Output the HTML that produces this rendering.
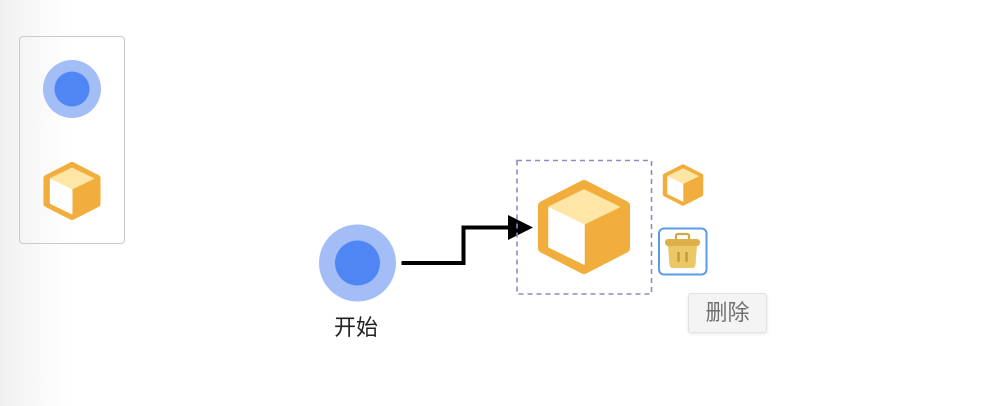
<!DOCTYPE html>
<html>
<head>
<meta charset="utf-8">
<style>
  html, body { margin:0; padding:0; }
  body {
    width:981px; height:406px; overflow:hidden; position:relative;
    background: linear-gradient(to right, #f0f0f0 0px, #f7f7f7 30px, #fdfdfd 60px, #ffffff 75px);
    font-family: "Liberation Sans", "Noto Sans CJK SC", sans-serif;
  }
  .panel {
    position:absolute; left:19px; top:36px; width:106px; height:208px;
    border:1.5px solid #cacaca; border-radius:4px; box-sizing:border-box;
  }
  .label {
    position:absolute; left:310px; top:313px; width:92px; text-align:center;
    font-size:22px; color:#222; line-height:30px;
  }
  .tip {
    position:absolute; left:688px; top:293px; width:79px; height:40px; box-sizing:border-box;
    background:#f4f4f4; border:1px solid #e2e2e2; border-radius:3px;
    box-shadow:0 1px 3px rgba(0,0,0,0.10);
    font-size:22px; color:#707070; text-align:center; line-height:38px;
  }
  svg { position:absolute; left:0; top:0; }
</style>
</head>
<body>
<div class="panel"></div>
<svg width="981" height="406" viewBox="0 0 981 406">
  <defs>
    <g id="cube">
      <path d="M0,-42 L-41,-21 L-41,21 L0,42 L41,21 L41,-21 Z" fill="#f2ae3c" stroke="#f2ae3c" stroke-width="10" stroke-linejoin="round"/>
      <polygon points="0,-37 -35,-20 0,-3 35,-20" fill="#fde6a6" stroke="#fde6a6" stroke-width="1.5" stroke-linejoin="round"/>
      <polygon points="-35,-19 0,-2 0,37 -35,20" fill="#ffffff" stroke="#ffffff" stroke-width="1.5" stroke-linejoin="round"/>
    </g>
  </defs>

  <!-- panel items -->
  <circle cx="72" cy="89" r="29" fill="#a3bdf7"/>
  <circle cx="72" cy="89" r="17.5" fill="#4f86f3"/>
  <use href="#cube" transform="translate(72,191) scale(0.62)"/>

  <!-- start node -->
  <circle cx="357.5" cy="263" r="38.5" fill="#a3bdf7"/>
  <circle cx="357.5" cy="263" r="22.5" fill="#4f86f3"/>

  <!-- edge -->
  <path d="M401.5 263 H463.5 V227.5 H512" fill="none" stroke="#000" stroke-width="4"/>
  <polygon points="508,215 533,227.5 508,240" fill="#000"/>

  <!-- selection dashed box -->
  <rect x="517" y="160.5" width="134.5" height="133.5" fill="none" stroke="#8c8cc4" stroke-width="1.6" stroke-dasharray="5,4"/>

  <!-- big cube -->
  <use href="#cube" transform="translate(584,227)"/>

  <!-- small cube -->
  <use href="#cube" transform="translate(683,185) scale(0.44)"/>

  <!-- trash button -->
  <rect x="659" y="228.5" width="47.5" height="46" rx="5" fill="#fff" stroke="#5b9be6" stroke-width="2"/>
  <path d="M676 239 V236 Q676 234 678 234 H687 Q689 234 689 236 V239" fill="none" stroke="#d4a943" stroke-width="2.2"/>
  <rect x="665" y="239" width="35" height="7" rx="3" fill="#ddb04a"/>
  <path d="M668 246 H697 L695.5 265 Q695 268 692 268 H673 Q670 268 669.5 265 Z" fill="#ecc766"/>
  <line x1="678.5" y1="252" x2="678.5" y2="262" stroke="#c49a38" stroke-width="2.4"/>
  <line x1="686.5" y1="252" x2="686.5" y2="262" stroke="#c49a38" stroke-width="2.4"/>
</svg>
<div class="label">开始</div>
<div class="tip">删除</div>
</body>
</html>
